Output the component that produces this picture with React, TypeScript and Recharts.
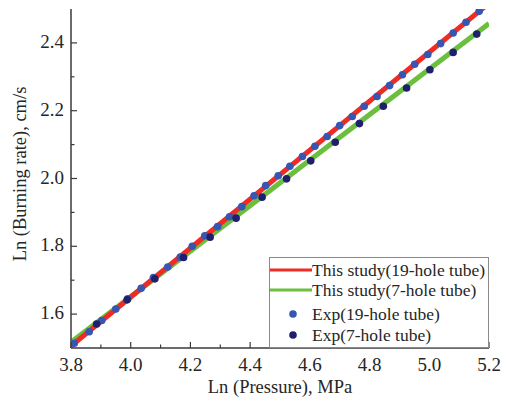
import React from 'react';
import { ComposedChart, XAxis, YAxis, Line, Scatter, Legend } from 'recharts';

const xTicks = [3.8, 3.9, 4.0, 4.1, 4.2, 4.3, 4.4, 4.5, 4.6, 4.7, 4.8, 4.9, 5.0, 5.1, 5.2];
const yTicks = [1.6, 1.7, 1.8, 1.9, 2.0, 2.1, 2.2, 2.3, 2.4];

const exp19X = [3.811, 3.861, 3.903, 3.95, 3.99, 4.035, 4.076, 4.124, 4.166, 4.206, 4.248, 4.291, 4.331, 4.372, 4.413, 4.452, 4.494, 4.533, 4.575, 4.617, 4.658, 4.7, 4.742, 4.782, 4.825, 4.867, 4.91, 4.951, 4.995, 5.038, 5.08, 5.123, 5.167];
const exp19Y = [1.514, 1.548, 1.581, 1.615, 1.645, 1.676, 1.708, 1.739, 1.768, 1.8, 1.831, 1.858, 1.887, 1.917, 1.949, 1.979, 2.008, 2.036, 2.065, 2.095, 2.124, 2.156, 2.183, 2.213, 2.242, 2.274, 2.306, 2.337, 2.366, 2.398, 2.429, 2.461, 2.493];
const exp7X = [3.886, 3.988, 4.081, 4.177, 4.266, 4.353, 4.44, 4.522, 4.603, 4.685, 4.766, 4.846, 4.924, 5.002, 5.08, 5.159];
const exp7Y = [1.571, 1.642, 1.704, 1.767, 1.827, 1.883, 1.945, 1.999, 2.052, 2.107, 2.162, 2.213, 2.267, 2.321, 2.372, 2.426];
const model19X = [3.8, 5.2];
const model19Y = [1.506, 2.517];
const model7X = [3.8, 5.2];
const model7Y = [1.517, 2.457];

const legendLabels = ['This study(19-hole tube)', 'This study(7-hole tube)', 'Exp(19-hole tube)', 'Exp(7-hole tube)'];

const RED = '#ee2b24';
const GREEN = '#6cbf3e';
const BLUE = '#3656b2';
const NAVY = '#1f1f6e';
const AXIS = '#3a3a3a';
const TEXT = '#262626';
const FONT = "'Liberation Serif', 'Times New Roman', serif";

const zip = (xs: number[], ys: number[]) => xs.map((x, i) => ({ x, y: ys[i] }));
const exp19 = zip(exp19X, exp19Y);
const exp7 = zip(exp7X, exp7Y);
const model19 = zip(model19X, model19Y);
const model7 = zip(model7X, model7Y);

const isMajor = (v: number) => Math.round(v * 10) % 2 === 0;

const XTick = (props: any) => {
  const { x, y, payload } = props;
  const major = isMajor(payload.value);
  return (
    <g>
      <line x1={x} x2={x} y1={y} y2={y - (major ? 6 : 3.5)} stroke={AXIS} strokeWidth={1.2} />
      {major && (
        <text x={x} y={y + 23} textAnchor="middle" fontFamily={FONT} fontSize={19} fill={TEXT}>
          {payload.value.toFixed(1)}
        </text>
      )}
    </g>
  );
};

const YTick = (props: any) => {
  const { x, y, payload } = props;
  const major = isMajor(payload.value);
  return (
    <g>
      <line x1={x} x2={x + (major ? 6 : 3.5)} y1={y} y2={y} stroke={AXIS} strokeWidth={1.2} />
      {major && (
        <text x={x - 7} y={y + 5} textAnchor="end" fontFamily={FONT} fontSize={19} fill={TEXT}>
          {payload.value.toFixed(1)}
        </text>
      )}
    </g>
  );
};

const Dot = (color: string) => (props: any) => (
  <circle cx={props.cx} cy={props.cy} r={3.8} fill={color} />
);

const LegendBox = () => (
  <svg width={220} height={91} style={{ display: 'block' }}>
    <rect x={0.5} y={0.5} width={219} height={90} fill="#fff" stroke="#8a8a8a" strokeWidth={1} />
    <line x1={1} x2={43} y1={13} y2={13} stroke={RED} strokeWidth={3} />
    <line x1={1} x2={43} y1={33} y2={33} stroke={GREEN} strokeWidth={3} />
    <circle cx={24} cy={57} r={3.8} fill={BLUE} />
    <circle cx={24} cy={78} r={3.8} fill={NAVY} />
    {legendLabels.map((t, i) => (
      <text key={t} x={43} y={[19, 39, 63, 84][i]} fontFamily={FONT} fontSize={17.5} fill={TEXT}>
        {t}
      </text>
    ))}
  </svg>
);

export default function App() {
  return (
    <div style={{ position: 'absolute', left: 0, top: 0, width: 507, height: 401, background: '#fff' }}>
      <ComposedChart width={507} height={401} margin={{ top: 9, right: 18, left: 0, bottom: 0 }}>
        <XAxis
          dataKey="x"
          type="number"
          domain={[3.8, 5.2]}
          ticks={xTicks}
          allowDataOverflow
          height={53}
          tickSize={0}
          tickMargin={0}
          tickLine={false}
          tick={<XTick />}
          axisLine={{ stroke: AXIS, strokeWidth: 1.5 }}
          interval={0}
          label={{
            content: () => (
              <text x={280} y={393} textAnchor="middle" fontFamily={FONT} fontSize={18.5} fill={TEXT}>
                Ln (Pressure), MPa
              </text>
            ),
          }}
        />
        <XAxis xAxisId="top" orientation="top" type="number" domain={[3.8, 5.2]} height={0} tick={false} tickLine={false} axisLine={{ stroke: AXIS, strokeWidth: 1.5 }} />
        <YAxis
          type="number"
          domain={[1.5, 2.5]}
          ticks={yTicks}
          allowDataOverflow
          width={71}
          tickSize={0}
          tickMargin={0}
          tickLine={false}
          tick={<YTick />}
          axisLine={{ stroke: AXIS, strokeWidth: 1.5 }}
          interval={0}
          label={{
            content: () => (
              <text x={26} y={174} transform="rotate(-90, 26, 174)" textAnchor="middle" fontFamily={FONT} fontSize={18.5} fill={TEXT}>
                Ln (Burning rate), cm/s
              </text>
            ),
          }}
        />
        <YAxis yAxisId="right" orientation="right" type="number" domain={[1.5, 2.5]} width={0} tick={false} tickLine={false} axisLine={{ stroke: AXIS, strokeWidth: 1.5 }} />
        <Line data={model7} dataKey="y" stroke={GREEN} strokeWidth={5} dot={false} isAnimationActive={false} legendType="none" />
        <Line data={model19} dataKey="y" stroke={RED} strokeWidth={5} dot={false} isAnimationActive={false} legendType="none" />
        <Scatter data={exp19} dataKey="y" fill={BLUE} shape={Dot(BLUE)} isAnimationActive={false} legendType="none" />
        <Scatter data={exp7} dataKey="y" fill={NAVY} shape={Dot(NAVY)} isAnimationActive={false} legendType="none" />
        <Legend
          layout="vertical"
          align="center"
          verticalAlign="middle"
          content={() => <LegendBox />}
          wrapperStyle={{ left: 269, top: 257, width: 220, height: 91 }}
        />
      </ComposedChart>
    </div>
  );
}
